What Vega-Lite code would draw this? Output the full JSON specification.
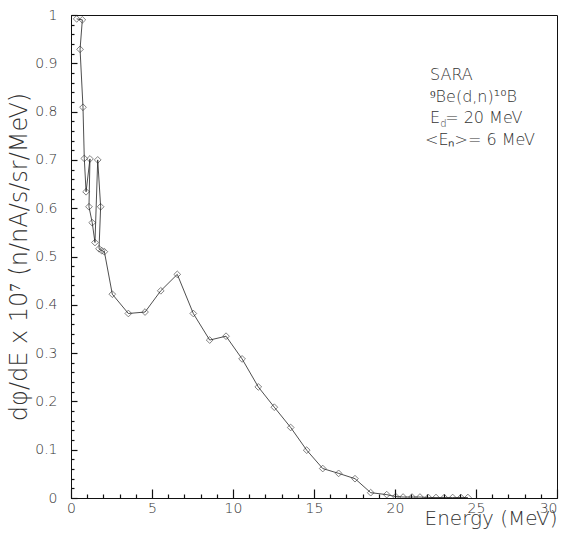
{
  "$schema": "https://vega.github.io/schema/vega-lite/v6.json",
  "width": 486,
  "height": 483,
  "autosize": {"type": "none"},
  "padding": {"left": 71, "top": 15, "right": 7, "bottom": 37},
  "background": "white",
  "config": {
    "view": {"stroke": "#111", "strokeWidth": 1},
    "font": "DejaVu Sans",
    "axis": {
      "domainColor": "#111",
      "tickColor": "#111",
      "tickWidth": 1.2,
      "grid": false,
      "labelFont": "DejaVu Sans",
      "labelFontWeight": 200,
      "labelColor": "#333",
      "labelFontSize": 14,
      "titleFont": "DejaVu Sans",
      "titleFontWeight": 200,
      "titleColor": "#333",
      "labelOverlap": false
    }
  },
  "resolve": {"axis": {"x": "independent", "y": "independent"}},
  "layer": [
    {
      "data": {"name": "spec"},
      "mark": {"type": "line", "stroke": "#222", "strokeWidth": 0.8, "clip": true},
      "encoding": {
        "x": {
          "field": "E", "type": "quantitative",
          "scale": {"domain": [0, 30], "nice": false},
          "axis": {
            "orient": "bottom",
            "title": "Energy (MeV)",
            "titleFontSize": 20,
            "titleAnchor": "end",
            "titlePadding": -7,
            "values": [0, 5, 10, 15, 20, 25, 30],
            "format": "d",
            "tickSize": -9,
            "labelPadding": 12,
            "labelOverlap": false,
            "labelFlush": false,
            "labelAlign": {"condition": {"test": "datum.value == 30", "value": "right"}, "value": "center"}
          }
        },
        "y": {
          "field": "v", "type": "quantitative",
          "scale": {"domain": [0, 1], "nice": false},
          "axis": {
            "orient": "left",
            "title": "dφ/dE x 10⁷ (n/nA/s/sr/MeV)",
            "titleFontSize": 24,
            "titlePadding": 3,
            "values": [0, 0.1, 0.2, 0.3, 0.4, 0.5, 0.6, 0.7, 0.8, 0.9, 1],
            "labelExpr": "format(datum.value, '.1~f')",
            "tickSize": -6,
            "labelPadding": 20,
            "labelOverlap": false
          }
        },
        "order": {"field": "i", "type": "quantitative"}
      }
    },
    {
      "data": {"name": "spec"},
      "mark": {"type": "point", "shape": "diamond", "filled": false, "size": 45, "stroke": "#222", "strokeWidth": 0.8, "clip": true},
      "encoding": {
        "x": {
          "field": "E", "type": "quantitative",
          "axis": {
            "orient": "bottom",
            "title": null,
            "labels": false,
            "domain": false,
            "tickSize": -4,
            "values": [1,2,3,4,6,7,8,9,11,12,13,14,16,17,18,19,21,22,23,24,26,27,28,29]
          }
        },
        "y": {
          "field": "v", "type": "quantitative",
          "axis": {
            "orient": "left",
            "title": null,
            "labels": false,
            "domain": false,
            "tickSize": -3,
            "values": [0.02,0.04,0.06,0.08,0.12,0.14,0.16,0.18,0.22,0.24,0.26,0.28,0.32,0.34,0.36,0.38,0.42,0.44,0.46,0.48,0.52,0.54,0.56,0.58,0.62,0.64,0.66,0.68,0.72,0.74,0.76,0.78,0.82,0.84,0.86,0.88,0.92,0.94,0.96,0.98]
          }
        }
      }
    },
    {
      "data": {"values": [
        {"E": 22.16, "v": 0.876, "t": "SARA"},
        {"E": 22.16, "v": 0.831, "t": "⁹Be(d,n)¹⁰B"},
        {"E": 22.16, "v": 0.787, "t": "E  = 20 MeV"},
        {"E": 21.85, "v": 0.741, "t": "<Eₙ>= 6 MeV"}
      ]},
      "mark": {"type": "text", "align": "left", "baseline": "middle", "fontSize": 16, "fontWeight": 200, "color": "#333", "font": "DejaVu Sans"},
      "encoding": {
        "x": {"field": "E", "type": "quantitative", "axis": null},
        "y": {"field": "v", "type": "quantitative", "axis": null},
        "text": {"field": "t"}
      }
    },
    {
      "data": {"values": [{"E": 22.79, "v": 0.775, "t": "d"}]},
      "mark": {"type": "text", "align": "left", "baseline": "middle", "fontSize": 10, "fontWeight": 200, "color": "#333", "font": "DejaVu Sans"},
      "encoding": {
        "x": {"field": "E", "type": "quantitative", "axis": null},
        "y": {"field": "v", "type": "quantitative", "axis": null},
        "text": {"field": "t"}
      }
    }
  ],
  "datasets": {
    "spec": [
      {"i": 1, "E": 0.35, "v": 0.992},
      {"i": 2, "E": 0.70, "v": 0.990},
      {"i": 3, "E": 0.56, "v": 0.929},
      {"i": 4, "E": 0.74, "v": 0.809},
      {"i": 5, "E": 0.82, "v": 0.703},
      {"i": 6, "E": 0.93, "v": 0.634},
      {"i": 7, "E": 1.17, "v": 0.702},
      {"i": 8, "E": 1.11, "v": 0.603},
      {"i": 9, "E": 1.31, "v": 0.570},
      {"i": 10, "E": 1.48, "v": 0.529},
      {"i": 11, "E": 1.65, "v": 0.700},
      {"i": 12, "E": 1.83, "v": 0.603},
      {"i": 13, "E": 1.73, "v": 0.516},
      {"i": 14, "E": 1.90, "v": 0.512},
      {"i": 15, "E": 2.06, "v": 0.510},
      {"i": 16, "E": 2.55, "v": 0.422},
      {"i": 17, "E": 3.54, "v": 0.382},
      {"i": 18, "E": 4.57, "v": 0.385},
      {"i": 19, "E": 5.54, "v": 0.429},
      {"i": 20, "E": 6.56, "v": 0.463},
      {"i": 21, "E": 7.55, "v": 0.382},
      {"i": 22, "E": 8.56, "v": 0.327},
      {"i": 23, "E": 9.57, "v": 0.335},
      {"i": 24, "E": 10.56, "v": 0.288},
      {"i": 25, "E": 11.56, "v": 0.230},
      {"i": 26, "E": 12.55, "v": 0.188},
      {"i": 27, "E": 13.56, "v": 0.146},
      {"i": 28, "E": 14.55, "v": 0.099},
      {"i": 29, "E": 15.54, "v": 0.061},
      {"i": 30, "E": 16.52, "v": 0.051},
      {"i": 31, "E": 17.53, "v": 0.040},
      {"i": 32, "E": 18.50, "v": 0.011},
      {"i": 33, "E": 19.49, "v": 0.007},
      {"i": 34, "E": 20.04, "v": 0.003},
      {"i": 35, "E": 20.50, "v": 0.002},
      {"i": 36, "E": 21.05, "v": 0.002},
      {"i": 37, "E": 21.54, "v": 0.002},
      {"i": 38, "E": 22.06, "v": 0.001},
      {"i": 39, "E": 22.53, "v": 0.001},
      {"i": 40, "E": 23.04, "v": 0.001},
      {"i": 41, "E": 23.56, "v": 0.001},
      {"i": 42, "E": 24.07, "v": 0.001},
      {"i": 43, "E": 24.50, "v": 0.001}
    ]
  }
}
